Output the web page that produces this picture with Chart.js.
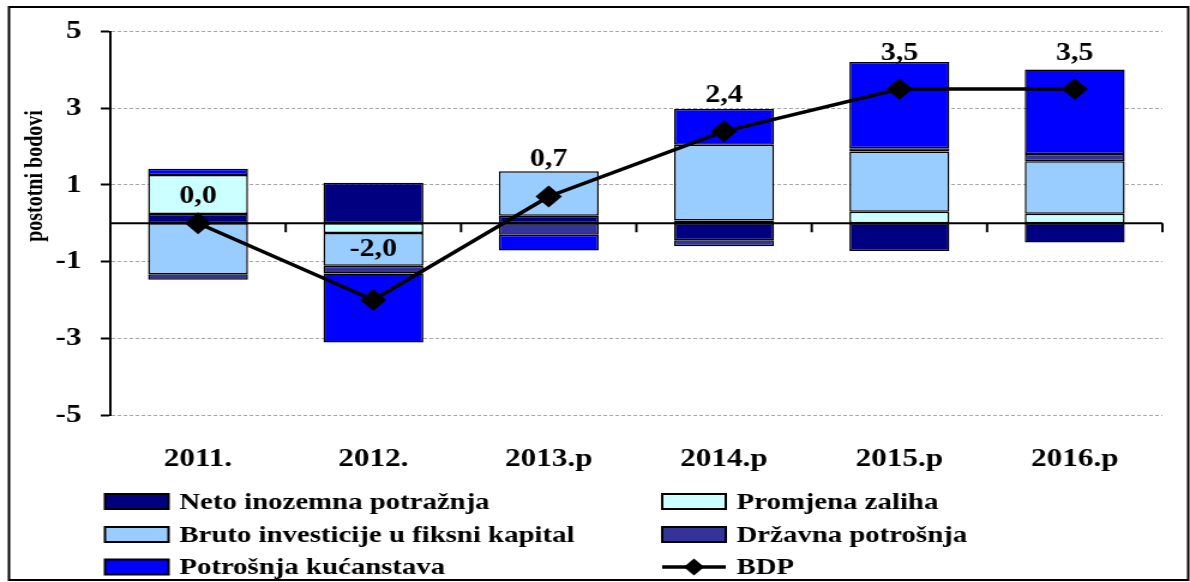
<!DOCTYPE html>
<html>
<head>
<meta charset="utf-8">
<script src="https://cdn.jsdelivr.net/npm/chart.js@4.4.0/dist/chart.umd.min.js"></script>
<style>
html, body { margin: 0; padding: 0; background: #fff; overflow: hidden; }
/* the original picture is stretched sideways, so draw narrow and scale it */
#wrap { width: 992px; height: 582px; transform: scale(1.1996, 1); transform-origin: 0 0; }
</style>
</head>
<body>
<div id="wrap"><canvas id="chart" width="992" height="582"></canvas></div>
<script>
// categories and values
const years = ['2011.', '2012.', '2013.p', '2014.p', '2015.p', '2016.p'];
const netoInozemna = [0.24, 1.06, 0.20, -0.44, -0.72, -0.50];
const promjenaZaliha = [1.02, -0.25, 0, 0.07, 0.30, 0.25];
const brutoInvesticije = [-1.33, -0.86, 1.16, 1.98, 1.57, 1.37];
const drzavnaPotrosnja = [-0.14, -0.20, -0.30, -0.16, 0.09, 0.19];
const potrosnjaKucanstava = [0.16, -1.80, -0.41, 0.93, 2.25, 2.20];
const bdp = [0.0, -2.0, 0.7, 2.4, 3.5, 3.5];
const yTicks = [-5, -3, -1, 1, 3, 5];

const serif = '"Liberation Serif", "Times New Roman", serif';
Chart.defaults.font.family = serif;
Chart.defaults.font.weight = 'bold';
Chart.defaults.color = '#000';

// how far above the BDP point each value label sits
const labelLift = [27, 50, 37, 36, 36, 36];

function barSet(label, data, color) {
    return {
        type: 'bar',
        label: label,
        data: data,
        backgroundColor: color,
        borderColor: '#000',
        borderWidth: 1.5,
        borderSkipped: false,
        stack: 'bars',
        order: 1,
        barPercentage: 0.57,
        categoryPercentage: 1
    };
}

function diamond(ctx, x, y, r) {
    ctx.beginPath();
    ctx.moveTo(x, y - r);
    ctx.lineTo(x + r, y);
    ctx.lineTo(x, y + r);
    ctx.lineTo(x - r, y);
    ctx.closePath();
    ctx.fill();
}

const extras = {
    id: 'extras',
    beforeDatasetsDraw(chart) {
        // zero line with the category tick marks
        const { ctx, chartArea: a, scales: { x, y } } = chart;
        const y0 = y.getPixelForValue(0);
        const half = (x.getPixelForValue(1) - x.getPixelForValue(0)) / 2;
        ctx.save();
        ctx.strokeStyle = '#000';
        ctx.lineWidth = 2;
        ctx.beginPath();
        ctx.moveTo(a.left, y0);
        ctx.lineTo(a.right, y0);
        for (let i = 0; i < years.length; i++) {
            const px = x.getPixelForValue(i) + half;
            ctx.moveTo(px, y0);
            ctx.lineTo(px, y0 + 9);
        }
        ctx.stroke();
        ctx.restore();
    },
    afterDatasetsDraw(chart) {
        // BDP value labels
        const { ctx } = chart;
        const meta = chart.getDatasetMeta(5);
        ctx.save();
        ctx.font = 'bold 25px ' + serif;
        ctx.fillStyle = '#000';
        ctx.textAlign = 'center';
        ctx.textBaseline = 'middle';
        meta.data.forEach((pt, i) => {
            ctx.fillText(bdp[i].toFixed(1).replace('.', ','), pt.x, pt.y - labelLift[i]);
        });
        ctx.restore();
    },
    afterDraw(chart) {
        const { ctx } = chart;
        ctx.save();

        // axis title
        ctx.translate(30, 176);
        ctx.rotate(-Math.PI / 2);
        ctx.font = 'bold 20px ' + serif;
        ctx.fillStyle = '#000';
        ctx.textAlign = 'center';
        ctx.textBaseline = 'middle';
        ctx.fillText('postotni bodovi', 0, 0);
        ctx.setTransform(1, 0, 0, 1, 0, 0);

        // two column legend
        const cols = [87.5, 552];
        const rows = [501.5, 534.5, 567];
        ctx.font = 'bold 24px ' + serif;
        ctx.textAlign = 'left';
        ctx.textBaseline = 'middle';
        chart.data.datasets.forEach((ds, i) => {
            const bx = cols[i % 2];
            const by = rows[Math.floor(i / 2)];
            if (ds.type === 'bar') {
                ctx.fillStyle = ds.backgroundColor;
                ctx.fillRect(bx, by - 7.5, 53, 15);
                ctx.strokeStyle = '#000';
                ctx.lineWidth = 2;
                ctx.strokeRect(bx, by - 7.5, 53, 15);
            } else {
                ctx.strokeStyle = '#000';
                ctx.lineWidth = 3.5;
                ctx.beginPath();
                ctx.moveTo(bx, by);
                ctx.lineTo(bx + 53, by);
                ctx.stroke();
                ctx.fillStyle = '#000';
                diamond(ctx, bx + 26.5, by, 8.5);
            }
            ctx.fillStyle = '#000';
            ctx.fillText(ds.label, bx + 62, by + 1);
        });

        // outer frame
        ctx.strokeStyle = '#000';
        ctx.lineWidth = 2;
        ctx.strokeRect(7.5, 7, 983, 573);
        ctx.restore();
    }
};

new Chart(document.getElementById('chart'), {
    data: {
        labels: years,
        datasets: [
            barSet('Neto inozemna potražnja', netoInozemna, '#000080'),
            barSet('Promjena zaliha', promjenaZaliha, '#CCFFFF'),
            barSet('Bruto investicije u fiksni kapital', brutoInvesticije, '#99CCFF'),
            barSet('Državna potrošnja', drzavnaPotrosnja, '#333399'),
            barSet('Potrošnja kućanstava', potrosnjaKucanstava, '#0000FF'),
            {
                type: 'line',
                label: 'BDP',
                data: bdp,
                borderColor: '#000',
                backgroundColor: '#000',
                borderWidth: 3.5,
                tension: 0,
                pointStyle: 'rectRot',
                pointRadius: 8.5,
                pointBackgroundColor: '#000',
                pointBorderColor: '#000',
                stack: 'line',
                order: 0
            }
        ]
    },
    plugins: [extras],
    options: {
        responsive: false,
        animation: false,
        layout: { padding: { left: 0, right: 23, top: 31, bottom: 107 } },
        plugins: {
            legend: { display: false },
            tooltip: { enabled: false }
        },
        scales: {
            x: {
                stacked: true,
                grid: { display: false },
                border: { display: false },
                ticks: { font: { size: 26, weight: 'bold' }, padding: 21 },
                afterFit(axis) { axis.height = 60; }
            },
            y: {
                stacked: true,
                min: -5,
                max: 5,
                afterBuildTicks(axis) { axis.ticks = yTicks.map(v => ({ value: v })); },
                ticks: {
                    font: { size: 26, weight: 'bold' },
                    padding: 16,
                    callback: v => String(v)
                },
                grid: { color: '#a6a6a6', lineWidth: 1, tickColor: '#000', tickLength: 8, tickWidth: 2 },
                border: { color: '#000', width: 2, dash: [3, 2] },
                afterFit(axis) { axis.width = 92; }
            }
        }
    }
});
</script>
</body>
</html>
